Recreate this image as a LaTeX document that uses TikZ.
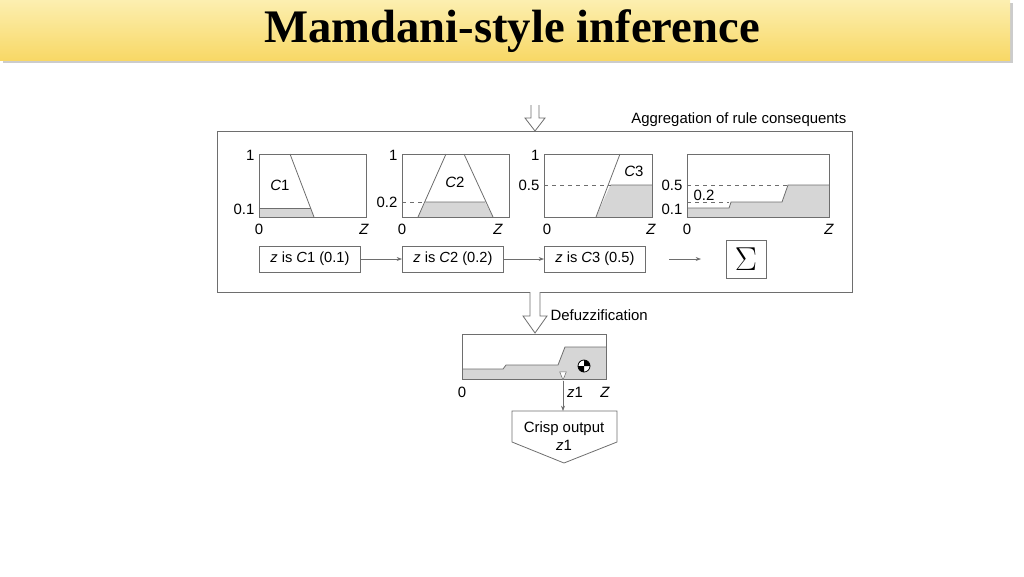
\documentclass[tikz,border=0pt]{standalone}
\usepackage{fontspec}
\setmainfont{Liberation Serif}
\newfontfamily\labelfont{Liberation Sans}
\usetikzlibrary{arrows.meta,positioning,shapes.geometric}
\definecolor{barcol}{HTML}{F8D866}
\definecolor{bartop}{HTML}{FCEFB0}
\definecolor{areagray}{HTML}{D6D6D6}
\definecolor{edge}{HTML}{6E6E6E}
\tikzset{
  plotbox/.style={draw=edge, line width=0.6pt},
  rulebox/.style={draw=edge, line width=0.6pt, minimum height=19.5pt, minimum width=75.75pt, inner sep=1pt, font=\labelfont\fontsize{11}{12}\selectfont},
  lbl/.style={font=\labelfont\fontsize{11.2}{12.5}\selectfont, inner sep=1pt},
  hollow/.style={draw=edge, fill=white, line width=0.6pt},
  link/.style={-{Stealth[length=4pt]}, draw=edge, line width=0.5pt}
}
\begin{document}
\begin{tikzpicture}[x=0.75pt, y=-0.75pt]
\useasboundingbox (0,0) rectangle (1024,576);
% title bar
\fill[black!20] (3,3) rectangle (1013,63);
\shade[top color=bartop, bottom color=barcol] (0,0) rectangle (1010,60);
\node (title) at (512,31) {\fontsize{35}{40}\selectfont\bfseries Mamdani-style inference};
% aggregation frame
\draw[plotbox] (217,131) rectangle (852,292);
\node[lbl, anchor=east] (agglbl) at (848,120) {Aggregation of rule consequents};
\draw[hollow] (531,105) -- (531,118) -- (525,118) -- (535,131) -- (545,118) -- (539,118) -- (539,105);
% C1
\fill[areagray] (259,208) -- (310.5,208) -- (314,217) -- (259,217) -- cycle;
\draw[edge, line width=0.6pt] (259,208) -- (310.5,208);
\draw[edge, line width=0.6pt] (290,154) -- (314,217);
\draw[plotbox] (259,154) rectangle (366,217);
\node[lbl] (c1) at (280,185) {\itshape C\upshape1};
\node[lbl, anchor=east] (c1top) at (256,155) {1};
\node[lbl, anchor=east] (c1lev) at (256,209) {0.1};
\node[lbl] (c1o) at (259,229) {0};
\node[lbl] (c1z) at (364,229) {\itshape Z};
% C2
\fill[areagray] (418,217) -- (425.5,202) -- (485,202) -- (493,217) -- cycle;
\draw[edge, line width=0.6pt] (418,217) -- (446,154) (464,154) -- (493,217) (425.5,202) -- (485,202);
\draw[edge, dashed, line width=0.5pt] (402,202) -- (425.5,202);
\draw[plotbox] (402,154) rectangle (509,217);
\node[lbl] (c2) at (455,182) {\itshape C\upshape2};
\node[lbl, anchor=east] (c2top) at (399,155) {1};
\node[lbl, anchor=east] (c2lev) at (399,202) {0.2};
\node[lbl] (c2o) at (402,229) {0};
\node[lbl] (c2z) at (498,229) {\itshape Z};
% C3
\fill[areagray] (596,217) -- (610.5,185) -- (652,185) -- (652,217) -- cycle;
\draw[edge, line width=0.6pt] (596,217) -- (620,154) (610.5,185) -- (652,185);
\draw[edge, dashed, line width=0.5pt] (544,185) -- (610.5,185);
\draw[plotbox] (544,154) rectangle (652,217);
\node[lbl] (c3) at (634,171) {\itshape C\upshape3};
\node[lbl, anchor=east] (c3top) at (541,155) {1};
\node[lbl, anchor=east] (c3lev) at (541,185) {0.5};
\node[lbl] (c3o) at (547,229) {0};
\node[lbl] (c3z) at (651,229) {\itshape Z};
% aggregated
\fill[areagray] (687,208) -- (729,208) -- (731,202) -- (782,202) -- (788,185) -- (829,185) -- (829,217) -- (687,217) -- cycle;
\draw[edge, line width=0.6pt] (687,208) -- (729,208) -- (731,202) -- (782,202) -- (788,185) -- (829,185);
\draw[edge, dashed, line width=0.5pt] (687,185) -- (788,185) (687,202) -- (729,202);
\draw[plotbox] (687,154) rectangle (829,217);
\node[lbl] (aglev) at (704,195) {0.2};
\node[lbl, anchor=east] (agfive) at (684,185) {0.5};
\node[lbl, anchor=east] (agone) at (684,209) {0.1};
\node[lbl] (ago) at (687,229) {0};
\node[lbl] (agz) at (829,229) {\itshape Z};
% rules
\node[rulebox, anchor=west] (r1) at (259,259) {\itshape z\upshape\ is \itshape C\upshape1 (0.1)};
\node[rulebox, anchor=west] (r2) at (402,259) {\itshape z\upshape\ is \itshape C\upshape2 (0.2)};
\node[rulebox, anchor=west] (r3) at (544,259) {\itshape z\upshape\ is \itshape C\upshape3 (0.5)};
\node[draw=edge, line width=0.6pt, minimum width=30pt, minimum height=28.5pt, font=\fontsize{24}{26}\selectfont] (sum) at (746,259) {$\Sigma$};
\draw[link] (r1) -- (r2);
\draw[link] (r2) -- (r3);
\coordinate (sumin) at (669,259);
\draw[link] (sumin) -- (701,259);
% defuzzification
\draw[hollow] (530,292) -- (530,316) -- (523,316) -- (535,333) -- (547,316) -- (540,316) -- (540,292);
\node[lbl, anchor=west] (deflbl) at (549,315) {Defuzzification};
\fill[areagray] (462,369) -- (503,369) -- (506,365) -- (558,365) -- (565,347) -- (606,347) -- (606,379) -- (462,379) -- cycle;
\draw[edge, line width=0.6pt] (462,369) -- (503,369) -- (506,365) -- (558,365) -- (565,347) -- (606,347);
\draw[plotbox] (462,334) rectangle (606,379);
\draw[black, fill=white, line width=0.6pt] (584,366) circle (6);
\fill[black] (584,366) -- (590,366) arc (0:-90:6) -- cycle;
\fill[black] (584,366) -- (578,366) arc (180:90:6) -- cycle;
\node[draw=edge, fill=white, isosceles triangle, shape border rotate=-90, inner sep=0pt, minimum size=5pt] (cog) at (563,374) {};
\node[lbl] (dfo) at (462,392) {0};
\node[lbl] (dfz1) at (575,392) {\itshape z\upshape1};
\node[lbl] (dfz) at (605,392) {\itshape Z};
\draw[draw=edge, line width=0.6pt] (512,411) -- (617,411) -- (617,442) -- (564,463) -- (512,442) -- cycle;
\coordinate (crisp) at (563,411);
\node[lbl, align=center] (crisptxt) at (564,436) {Crisp output\\[1pt]\itshape z\upshape1};
\draw[link] (cog.south) -- (crisp);
\end{tikzpicture}
\end{document}
